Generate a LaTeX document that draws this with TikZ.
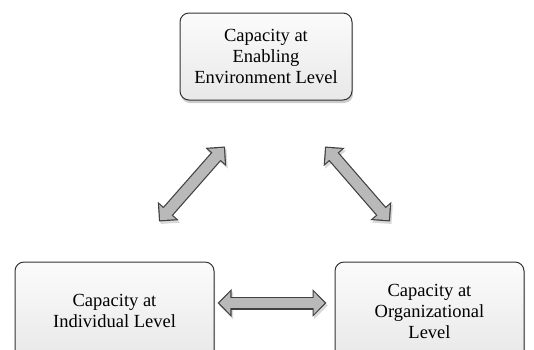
\documentclass[tikz,border=0pt]{standalone}
\usepackage{fontspec}
\setmainfont{Liberation Serif}
\usetikzlibrary{arrows.meta, shadows, calc}

\tikzset{
  levelbox/.style={draw=black!80, line width=1pt, rounded corners=9pt,
    top color=gray!3, bottom color=gray!18, align=center,
    font=\fontsize{18.5}{21}\selectfont,
    drop shadow={shadow xshift=1pt, shadow yshift=-3pt, fill=black!40, opacity=0.5}},
  fatarrow/.style={line width=13pt, draw=black!75,
    arrows={Triangle[width=27pt,length=14pt]-Triangle[width=27pt,length=14pt]},
    preaction={draw=black!15, transform canvas={xshift=1.5pt,yshift=-2.5pt}},
    postaction={draw=gray!55, line width=10.6pt, shorten <=1.8pt, shorten >=1.8pt,
      arrows={Triangle[width=21.5pt,length=11pt]-Triangle[width=21.5pt,length=11pt]}}}
}

\begin{document}
\begin{tikzpicture}[x=1pt, y=-1pt]
\useasboundingbox (0,0) rectangle (534,349);

% the three levels
\node[levelbox, minimum width=172pt, minimum height=87pt] (enabling) at (266,56.5) {Capacity at\\Enabling\\Environment Level};
\node[levelbox, minimum width=199pt, minimum height=98pt] (individual) at (114.5,311) {Capacity at\\Individual Level};
\node[levelbox, minimum width=189pt, minimum height=98pt] (organizational) at (429.5,311) {Capacity at\\Organizational\\Level};

% arrow ends
\coordinate (indtop) at ($(individual.north)+(44.5,-40)$);
\coordinate (enaleft) at ($(enabling.south)+(-41,46)$);
\coordinate (enaright) at ($(enabling.south)+(59,46)$);
\coordinate (orgtop) at ($(organizational.north)+(-39.5,-40)$);
\coordinate (indright) at ($(individual.east)+(3,-8)$);
\coordinate (orgleft) at ($(organizational.west)+(-8,-8)$);

\draw[fatarrow] (indtop) -- (enaleft);
\draw[fatarrow] (enaright) -- (orgtop);
\draw[fatarrow] (indright) -- (orgleft);
\end{tikzpicture}
\end{document}
